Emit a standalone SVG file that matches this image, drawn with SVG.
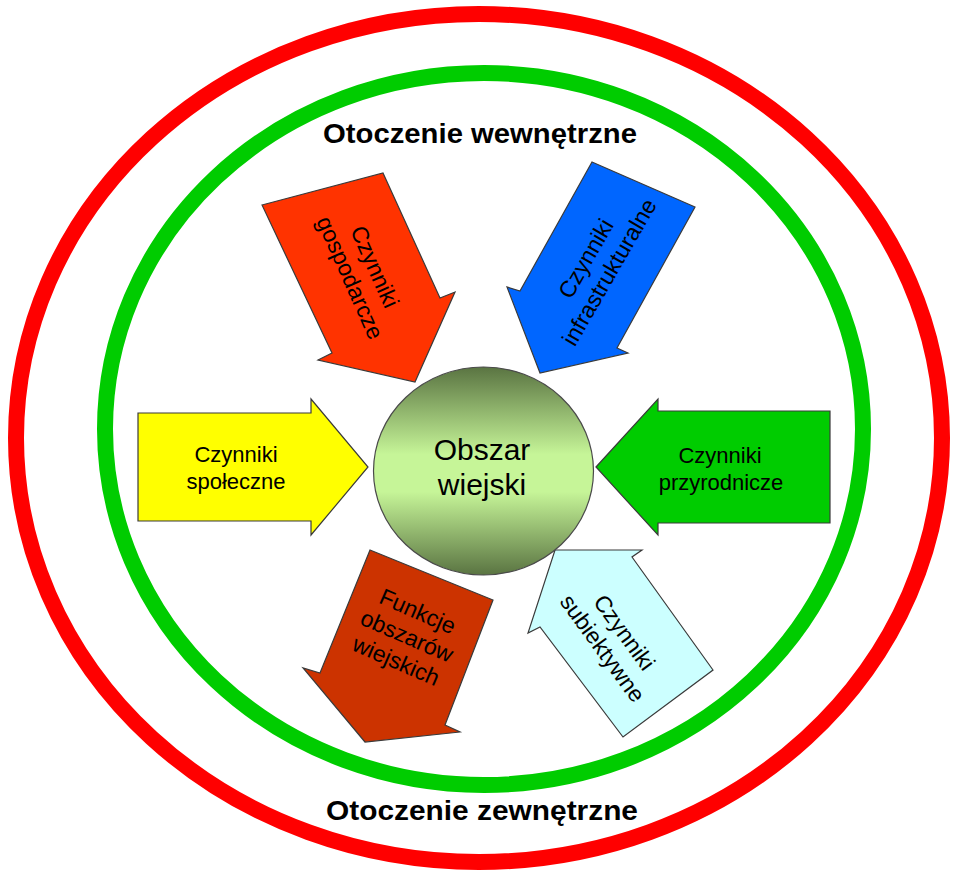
<svg xmlns="http://www.w3.org/2000/svg" width="957" height="871" viewBox="0 0 957 871">
<defs>
<linearGradient id="ballGrad" x1="0" y1="0" x2="0" y2="1">
<stop offset="0" stop-color="#5a7442"/>
<stop offset="0.42" stop-color="#c6f598"/>
<stop offset="0.6" stop-color="#c6f598"/>
<stop offset="1" stop-color="#5a7442"/>
</linearGradient>
<style>
.ring{fill:none;stroke-width:16}
.arrow{stroke:#3a3a3a;stroke-width:1.2;stroke-linejoin:miter}
.lbl{font-family:"Liberation Sans",Arial,sans-serif;font-size:22px;fill:#000;text-anchor:middle}
.rlbl{font-family:"Liberation Sans",Arial,sans-serif;font-size:23px;fill:#000;text-anchor:middle}
.title{font-family:"Liberation Sans",Arial,sans-serif;font-size:27px;font-weight:bold;fill:#000;text-anchor:middle}
.center{font-family:"Liberation Sans",Arial,sans-serif;font-size:30px;fill:#000;text-anchor:middle}
</style>
</defs>
<rect width="957" height="871" fill="#ffffff"/>
<g id="outer-ring">
<ellipse class="ring" cx="479" cy="438" rx="463" ry="424" stroke="#ff0000"/>
<text class="title" x="482" y="820" textLength="312" lengthAdjust="spacingAndGlyphs">Otoczenie zewnętrzne</text>
</g>
<g id="inner-ring">
<ellipse class="ring" cx="484" cy="429" rx="379" ry="356" stroke="#00cc00"/>
<text class="title" x="480" y="143" textLength="314" lengthAdjust="spacingAndGlyphs">Otoczenie wewnętrzne</text>
</g>
<g id="connectors"></g>
<g id="gospodarcze">
<polygon class="arrow" fill="#ff3300" points="262,205 383,173 440,298 455,292 415,382 318,360 332,353"/>
<g transform="translate(363,272) rotate(66)">
<text class="rlbl" x="0" y="-5">Czynniki</text>
<text class="rlbl" x="0" y="22">gospodarcze</text>
</g>
</g>
<g id="infrastrukturalne">
<polygon class="arrow" fill="#0066ff" points="592,162 695,207 617,348 628,353 540,373 507,287 520,291"/>
<g transform="translate(597,265) rotate(-60)">
<text class="rlbl" x="0" y="-5">Czynniki</text>
<text class="rlbl" x="0" y="22">infrastrukturalne</text>
</g>
</g>
<g id="spoleczne">
<polygon class="arrow" fill="#ffff00" points="138,413 311,413 311,399 368,467 311,535 311,521 138,521"/>
<text class="lbl" x="236" y="462">Czynniki</text>
<text class="lbl" x="236" y="489">społeczne</text>
</g>
<g id="przyrodnicze">
<polygon class="arrow" fill="#00cc00" points="596,467 658,399 658,411 830,411 830,523 658,523 658,535"/>
<text class="lbl" x="720" y="463">Czynniki</text>
<text class="lbl" x="721" y="490">przyrodnicze</text>
</g>
<g id="funkcje">
<polygon class="arrow" fill="#cc3300" points="370,550 493,600 445,725 460,732 365,742 303,668 320,673"/>
<g transform="translate(407,636) rotate(23.5)">
<text class="rlbl" x="0" y="-19">Funkcje</text>
<text class="rlbl" x="0" y="8">obszarów</text>
<text class="rlbl" x="0" y="35">wiejskich</text>
</g>
</g>
<g id="subiektywne">
<polygon class="arrow" fill="#ccffff" points="555,550 642,550 632,557 713,670 623,737 540,627 528,633"/>
<g transform="translate(614,640) rotate(54)">
<text class="rlbl" x="0" y="-5">Czynniki</text>
<text class="rlbl" x="0" y="22">subiektywne</text>
</g>
</g>
<g id="obszar-wiejski">
<ellipse cx="483.5" cy="471" rx="110" ry="104" fill="url(#ballGrad)" stroke="#4a4a4a" stroke-width="1.2"/>
<text class="center" x="482" y="460">Obszar</text>
<text class="center" x="482" y="495">wiejski</text>
</g>
</svg>
